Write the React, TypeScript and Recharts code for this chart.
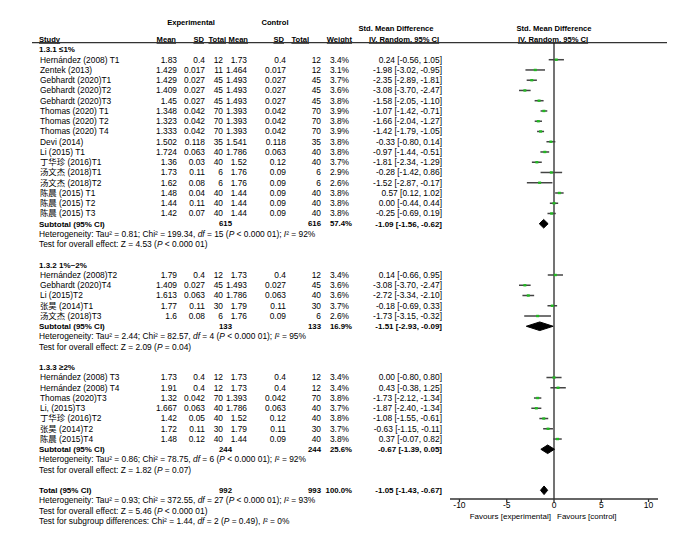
import React from "react";
import { ComposedChart, Scatter, XAxis, YAxis, ErrorBar, ReferenceLine } from "recharts";

// ---- data ----
const groupTitles = ["1.3.1 \u22641%", "1.3.2 1%~2%", "1.3.3 \u22652%"];
const groupSizes = [16, 5, 7];

const studyNames = [
  "Hernández (2008) T1", "Zentek (2013)", "Gebhardt (2020)T1", "Gebhardt (2020)T2", "Gebhardt (2020)T3",
  "Thomas (2020) T1", "Thomas (2020) T2", "Thomas (2020) T4", "Devi  (2014)", "Li (2015) T1",
  "丁华珍 (2016)T1", "汤文杰 (2018)T1", "汤文杰 (2018)T2", "陈晨 (2015) T1", "陈晨 (2015) T2", "陈晨 (2015) T3",
  "Hernández (2008)T2", "Gebhardt (2020)T4", "Li  (2015)T2", "张昊 (2014)T1", "汤文杰 (2018)T3",
  "Hernández (2008) T3", "Hernández (2008) T4", "Thomas (2020)T3", "Li, (2015)T3", "丁华珍 (2016)T2",
  "张昊 (2014)T2", "陈晨 (2015)T4",
];
const expMean = [1.83, 1.429, 1.429, 1.409, 1.45, 1.348, 1.323, 1.333, 1.502, 1.724, 1.36, 1.73, 1.62, 1.48, 1.44, 1.42,
  1.79, 1.409, 1.613, 1.77, 1.6, 1.73, 1.91, 1.32, 1.667, 1.42, 1.72, 1.48];
const expSD = ["0.4", "0.017", "0.027", "0.027", "0.027", "0.042", "0.042", "0.042", "0.118", "0.063", "0.03", "0.11", "0.08",
  "0.04", "0.11", "0.07", "0.4", "0.027", "0.063", "0.11", "0.08", "0.4", "0.4", "0.042", "0.063", "0.05", "0.11", "0.12"];
const expN = [12, 11, 45, 45, 45, 70, 70, 70, 35, 40, 40, 6, 6, 40, 40, 40, 12, 45, 40, 30, 6, 12, 12, 70, 40, 40, 30, 40];
const ctlMean = [1.73, 1.464, 1.493, 1.493, 1.493, 1.393, 1.393, 1.393, 1.541, 1.786, 1.52, 1.76, 1.76, 1.44, 1.44, 1.44,
  1.73, 1.493, 1.786, 1.79, 1.76, 1.73, 1.73, 1.393, 1.786, 1.52, 1.79, 1.44];
const ctlSD = ["0.4", "0.017", "0.027", "0.027", "0.027", "0.042", "0.042", "0.042", "0.118", "0.063", "0.12", "0.09", "0.09",
  "0.09", "0.09", "0.09", "0.4", "0.027", "0.063", "0.11", "0.09", "0.4", "0.4", "0.042", "0.063", "0.12", "0.11", "0.09"];
const ctlN = [12, 12, 45, 45, 45, 70, 70, 70, 35, 40, 40, 6, 6, 40, 40, 40, 12, 45, 40, 30, 6, 12, 12, 70, 40, 40, 30, 40];
const weights = [3.4, 3.1, 3.7, 3.6, 3.8, 3.9, 3.8, 3.9, 3.8, 3.8, 3.7, 2.9, 2.6, 3.8, 3.8, 3.8,
  3.4, 3.6, 3.6, 3.7, 2.6, 3.4, 3.4, 3.8, 3.7, 3.8, 3.7, 3.8];
const smd = [0.24, -1.98, -2.35, -3.08, -1.58, -1.07, -1.66, -1.42, -0.33, -0.97, -1.81, -0.28, -1.52, 0.57, 0.0, -0.25,
  0.14, -3.08, -2.72, -0.18, -1.73, 0.0, 0.43, -1.73, -1.87, -1.08, -0.63, 0.37];
const ciLow = [-0.56, -3.02, -2.89, -3.7, -2.05, -1.42, -2.04, -1.79, -0.8, -1.44, -2.34, -1.42, -2.87, 0.12, -0.44, -0.69,
  -0.66, -3.7, -3.34, -0.69, -3.15, -0.8, -0.38, -2.12, -2.4, -1.55, -1.15, -0.07];
const ciHigh = [1.05, -0.95, -1.81, -2.47, -1.1, -0.71, -1.27, -1.05, 0.14, -0.51, -1.29, 0.86, -0.17, 1.02, 0.44, 0.19,
  0.95, -2.47, -2.1, 0.33, -0.32, 0.8, 1.25, -1.34, -1.34, -0.61, -0.11, 0.82];

// subtotals (3 groups) then overall total
const subExpN = [615, 133, 244, 992];
const subCtlN = [616, 133, 244, 993];
const subWeight = [57.4, 16.9, 25.6, 100.0];
const subSmd = [-1.09, -1.51, -0.67, -1.05];
const subLow = [-1.56, -2.93, -1.39, -1.43];
const subHigh = [-0.62, -0.09, 0.05, -0.67];
const hetTau2 = ["0.81", "2.44", "0.86", "0.93"];
const hetChi2 = ["199.34", "82.57", "78.75", "372.55"];
const hetDf = [15, 4, 6, 27];
const hetP = ["< 0.000 01", "< 0.000 01", "< 0.000 01", "< 0.000 01"];
const hetI2 = [92, 95, 92, 93];
const zValue = ["4.53", "2.09", "1.82", "5.46"];
const zP = ["< 0.000 01", "= 0.04", "= 0.07", "< 0.000 01"];
const subgroupTest = { chi2: "1.44", df: 2, p: "= 0.49", i2: 0 };

const xTicks = [-10, -5, 0, 5, 10];

// ---- layout ----
const FONT = "'Liberation Sans', Arial, 'Noto Sans CJK SC', sans-serif";
const FS = 8.4;
const FS_HEAD = 7.6;
const INK = "#000";
const DIAMOND_HALF = 0.42; // rows

type Row = { row: number; kind: string; i: number };
const tableRows: Row[] = [
  { row: -2.6, kind: "head1", i: 0 },
  { row: -2.1, kind: "head2", i: 0 },
  { row: -1, kind: "head3", i: 0 },
];
const studyPoints: { x: number; y: number; err: number[] }[] = [];
const diamonds: { x: number; y: number }[][] = [];

let r = 0;
let s = 0;
groupSizes.forEach((n, g) => {
  tableRows.push({ row: r++, kind: "group", i: g });
  for (let k = 0; k < n; k++, s++) {
    tableRows.push({ row: r, kind: "study", i: s });
    studyPoints.push({ x: smd[s], y: r, err: [smd[s] - ciLow[s], ciHigh[s] - smd[s]] });
    r++;
  }
  tableRows.push({ row: r, kind: "subtotal", i: g });
  diamonds.push(diamondOf(g, r));
  r++;
  tableRows.push({ row: r++, kind: "het", i: g });
  tableRows.push({ row: r++, kind: "test", i: g });
  r++;
});
tableRows.push({ row: r, kind: "total", i: 3 });
diamonds.push(diamondOf(3, r));
r++;
tableRows.push({ row: r++, kind: "het", i: 3 });
tableRows.push({ row: r++, kind: "test", i: 3 });
tableRows.push({ row: r++, kind: "subgroup", i: 0 });

function diamondOf(i: number, row: number) {
  return [
    { x: subLow[i], y: row },
    { x: subSmd[i], y: row - DIAMOND_HALF },
    { x: subHigh[i], y: row },
    { x: subSmd[i], y: row + DIAMOND_HALF },
    { x: subLow[i], y: row },
  ];
}

const rowMap = new Map(tableRows.map((t) => [t.row, t]));
const fmt = (v: number) => v.toFixed(2);
const ciText = (m: number, lo: number, hi: number) => `${fmt(m)} [${fmt(lo)}, ${fmt(hi)}]`;

function T({ x, y, anchor = "start", bold = false, u = false, size = FS, children }: any) {
  return (
    <text x={x} y={y} dy="0.35em" textAnchor={anchor} fontSize={size} fontFamily={FONT}
      fontWeight={bold ? "bold" : "normal"} fill={INK} style={u ? { textDecoration: "underline" } : undefined}>
      {children}
    </text>
  );
}

const H = (p: any) => <T size={FS_HEAD} bold {...p} />;
const It = ({ children }: any) => <tspan fontStyle="italic">{children}</tspan>;

function TableRowTick(props: any) {
  const { y, payload } = props;
  const t = rowMap.get(payload.value);
  if (!t) return null;
  const i = t.i;
  switch (t.kind) {
    case "head1":
      return (
        <g>
          <H x={191} y={y} anchor="middle">Experimental</H>
          <H x={275} y={y} anchor="middle">Control</H>
        </g>
      );
    case "head2":
      return (
        <g>
          <H x={396} y={y} anchor="middle">Std. Mean Difference</H>
          <H x={554} y={y} anchor="middle">Std. Mean Difference</H>
        </g>
      );
    case "head3":
      return (
        <g>
          <H x={39} y={y} u>Study</H>
          <H x={176} y={y} anchor="end" u>Mean</H>
          <H x={204} y={y} anchor="end" u>SD</H>
          <H x={226} y={y} anchor="end" u>Total</H>
          <H x={248} y={y} anchor="end" u>Mean</H>
          <H x={284} y={y} anchor="end" u>SD</H>
          <H x={309} y={y} anchor="end" u>Total</H>
          <H x={352} y={y} anchor="end" u>Weight</H>
          <H x={404} y={y} anchor="middle" u>IV, Random, 95% CI</H>
          <H x={553} y={y} anchor="middle" u>IV, Random, 95% CI</H>
          <line x1={32} x2={667} y1={y + 3.5} y2={y + 3.5} stroke="#333" strokeWidth={1.3} />
        </g>
      );
    case "group":
      return <T x={39} y={y} bold size={FS_HEAD + 0.4}>{groupTitles[i]}</T>;
    case "study":
      return (
        <g>
          <T x={40} y={y}>{studyNames[i]}</T>
          <T x={177} y={y} anchor="end">{String(expMean[i])}</T>
          <T x={205} y={y} anchor="end">{expSD[i]}</T>
          <T x={223} y={y} anchor="end">{expN[i]}</T>
          <T x={247} y={y} anchor="end">{String(ctlMean[i])}</T>
          <T x={286} y={y} anchor="end">{ctlSD[i]}</T>
          <T x={321} y={y} anchor="end">{ctlN[i]}</T>
          <T x={349} y={y} anchor="end">{weights[i].toFixed(1)}%</T>
          <T x={442} y={y} anchor="end">{ciText(smd[i], ciLow[i], ciHigh[i])}</T>
        </g>
      );
    case "subtotal":
    case "total":
      return (
        <g>
          <T x={39} y={y} bold size={FS_HEAD + 0.4}>{t.kind === "total" ? "Total (95% CI)" : "Subtotal (95% CI)"}</T>
          <T x={232} y={y} anchor="end" bold size={FS_HEAD + 0.2}>{subExpN[i]}</T>
          <T x={321} y={y} anchor="end" bold size={FS_HEAD + 0.2}>{subCtlN[i]}</T>
          <T x={352} y={y} anchor="end" bold size={FS_HEAD + 0.2}>{subWeight[i].toFixed(1)}%</T>
          <T x={442} y={y} anchor="end" bold size={FS_HEAD + 0.4}>{ciText(subSmd[i], subLow[i], subHigh[i])}</T>
        </g>
      );
    case "het":
      return (
        <T x={39} y={y}>
          Heterogeneity: Tau² = {hetTau2[i]}; Chi² = {hetChi2[i]}, <It>df</It> = {hetDf[i]} (<It>P</It> {hetP[i]}); <It>I</It>² = {hetI2[i]}%
        </T>
      );
    case "test":
      return (
        <T x={39} y={y}>
          Test for overall effect: Z = {zValue[i]} (<It>P</It> {zP[i]})
        </T>
      );
    case "subgroup":
      return (
        <T x={39} y={y}>
          Test for subgroup differences: Chi² = {subgroupTest.chi2}, <It>df</It> = {subgroupTest.df} (<It>P</It> {subgroupTest.p}), <It>I</It>² = {subgroupTest.i2}%
        </T>
      );
  }
  return null;
}

function StudyMarker(props: any) {
  const { cx, cy } = props;
  return <rect x={cx - 1.5} y={cy - 1.2} width={3} height={2.4} fill="#22b822" />;
}

const Nothing = () => <g />;

function FavoursLabel(props: any) {
  const vb = props.viewBox || {};
  const x0 = vb.x;
  const yb = vb.y + vb.height + 20;
  return (
    <g>
      <text x={x0 - 3} y={yb} textAnchor="end" fontSize={8} fontFamily={FONT} fill={INK}>Favours [experimental]</text>
      <text x={x0 + 3} y={yb} textAnchor="start" fontSize={8} fontFamily={FONT} fill={INK}>Favours [control]</text>
    </g>
  );
}

export default function App() {
  return (
    <div style={{ position: "absolute", left: 0, top: 0, width: 700, height: 542, background: "#fff" }}>
      <ComposedChart width={700} height={542} margin={{ top: 43, right: 42, bottom: 13, left: 0 }}>
        <XAxis
          type="number"
          dataKey="x"
          domain={[-11, 11]}
          allowDataOverflow
          ticks={xTicks}
          interval={0}
          height={30}
          tickSize={3}
          tickMargin={0}
          stroke="#333"
          strokeWidth={1.3}
          tick={{ fontSize: 8.5, fill: INK, fontFamily: FONT }}
        />
        <YAxis
          type="number"
          dataKey="y"
          domain={[-0.63, 43.85]}
          reversed
          allowDataOverflow
          width={450}
          ticks={tableRows.map((t) => t.row)}
          interval={0}
          axisLine={false}
          tickLine={false}
          tick={(p: any) => <TableRowTick {...p} />}
        />
        <ReferenceLine x={0} stroke="#444" strokeWidth={1.5} label={(p: any) => <FavoursLabel {...p} />} />
        <Scatter data={studyPoints} shape={<StudyMarker />} isAnimationActive={false}>
          <ErrorBar dataKey="err" direction="x" width={0} stroke="#444" strokeWidth={1.5} isAnimationActive={false} />
        </Scatter>
        {diamonds.map((d, k) => (
          <Scatter key={k} data={d} shape={<Nothing />} line={{ fill: "#000", stroke: "#000", strokeWidth: 1 }}
            isAnimationActive={false} />
        ))}
      </ComposedChart>
    </div>
  );
}
